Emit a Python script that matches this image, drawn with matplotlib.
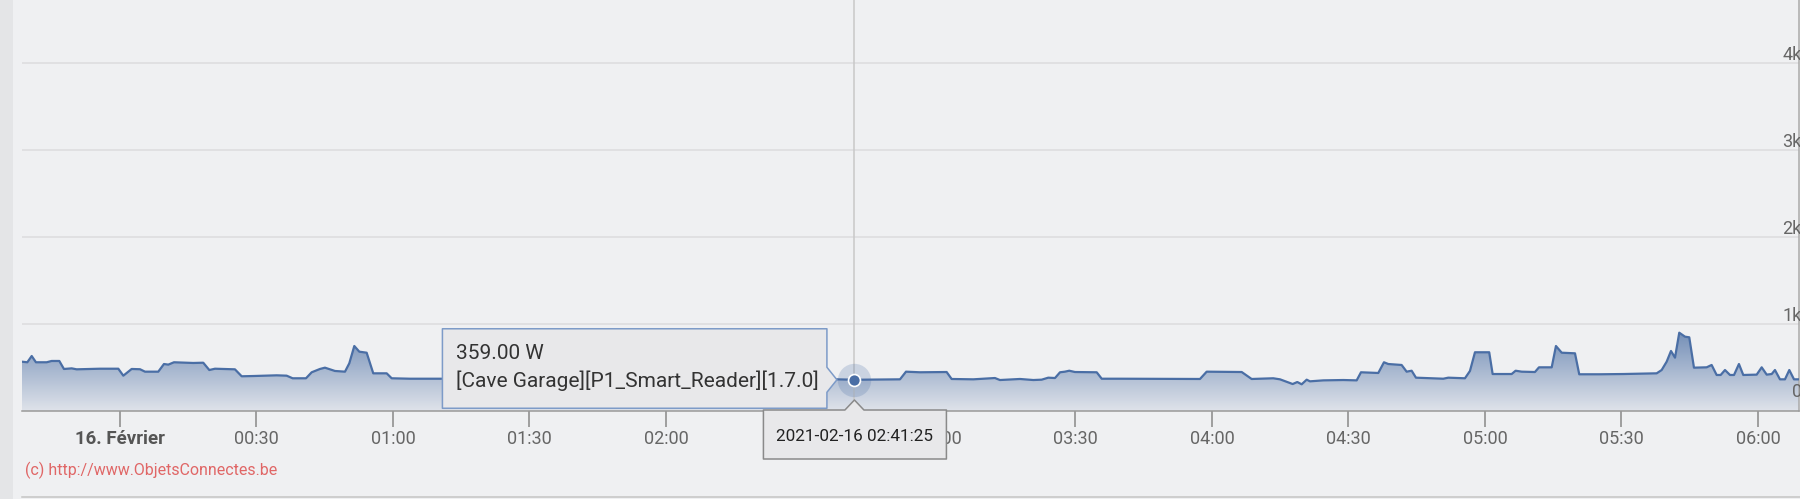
import numpy as np
import pandas as pd
import matplotlib
matplotlib.use('Agg')
import matplotlib.pyplot as plt
import matplotlib.dates as mdates
from matplotlib.colors import LinearSegmentedColormap
from matplotlib.patches import Polygon, Rectangle

plt.rcParams['font.family'] = ['Roboto', 'DejaVu Sans']

# power readings (W), night of 15 -> 16 Feb 2021
TIMES = ['23:38:24', '23:39:38', '23:40:36', '23:41:32', '23:43:53', '23:44:59', '23:46:40',
         '23:47:41', '23:49:23', '23:50:29', '23:55:36', '23:59:38',
         '00:00:44', '00:02:34', '00:04:24', '00:05:30', '00:08:25', '00:09:40', '00:10:37',
         '00:11:52', '00:14:40', '00:16:07', '00:18:18', '00:19:38', '00:20:53', '00:25:16',
         '00:26:45', '00:29:18', '00:34:26', '00:36:38', '00:37:57', '00:40:53', '00:42:08',
         '00:43:57', '00:45:03', '00:47:15', '00:49:27', '00:50:24', '00:51:30', '00:52:36',
         '00:54:13', '00:55:40', '00:58:37', '00:59:43', '01:03:44', '01:10:42', '02:37:31',
         '02:41:25', '02:51:26', '02:52:45', '02:55:49', '03:01:41', '03:02:47', '03:07:32',
         '03:12:18', '03:13:24', '03:17:48', '03:20:44', '03:22:34', '03:24:01', '03:25:30',
         '03:26:36', '03:27:41', '03:28:38', '03:29:53', '03:34:40', '03:35:46', '03:39:47',
         '03:57:22', '03:58:50', '04:06:32', '04:08:43', '04:13:28', '04:14:57', '04:17:44',
         '04:18:45', '04:19:43', '04:20:49', '04:21:32', '04:24:28', '04:28:52', '04:31:48',
         '04:32:45', '04:36:33', '04:37:48', '04:38:45', '04:41:41', '04:42:47', '04:43:53',
         '04:44:50', '04:50:50', '04:51:56', '04:55:36', '04:56:42', '04:57:48', '05:00:56',
         '05:01:41', '05:05:52', '05:06:44', '05:08:04', '05:10:59', '05:11:52', '05:14:40',
         '05:15:36', '05:16:52', '05:19:47', '05:20:43', '05:25:16', '05:30:24', '05:37:44',
         '05:38:50', '05:39:56', '05:40:53', '05:41:46', '05:42:42', '05:43:58', '05:44:54',
         '05:45:56', '05:48:43', '05:49:49', '05:50:55', '05:51:48', '05:52:45', '05:53:51',
         '05:54:44', '05:55:49', '05:56:46', '05:59:43', '06:00:49', '06:01:55', '06:03:01',
         '06:03:44', '06:04:50', '06:05:56', '06:06:53', '06:07:55', '06:09:14']
WATTS = [567, 560, 632, 560, 560, 575, 575,
         483, 490, 479, 486, 486,
         406, 483, 480, 452, 452, 540, 533,
         560, 555, 552, 555, 471, 486, 479,
         399, 402, 410, 406, 376, 376, 445,
         483, 498, 460, 452, 548, 747, 682,
         670, 433, 433, 376, 371, 371, 364,
         359, 364, 452, 445, 448, 368, 364,
         379, 356, 368, 356, 360, 383, 379,
         445, 452, 463, 448, 445, 371, 371,
         368, 452, 448, 368, 376, 364, 310,
         333, 307, 360, 341, 352, 356, 352,
         445, 437, 560, 540, 529, 452, 463,
         383, 371, 383, 376, 460, 675, 675,
         425, 425, 463, 452, 448, 502, 502,
         747, 670, 663, 422, 422, 425, 433,
         471, 567, 690, 613, 900, 854, 847,
         498, 502, 529, 414, 414, 471, 414,
         414, 540, 414, 418, 502, 418, 425,
         471, 364, 364, 471, 364, 364]

TICK_TIMES = ['00:00', '00:30', '01:00', '01:30', '02:00', '02:30', '03:00',
              '03:30', '04:00', '04:30', '05:00', '05:30', '06:00']
# 02:30 sits fully under the date tooltip in the screenshot
TICK_LABELS = ['16. Février', '00:30', '01:00', '01:30', '02:00', '', '03:00',
               '03:30', '04:00', '04:30', '05:00', '05:30', '06:00']
Y_TICKS = [0, 1000, 2000, 3000, 4000]
Y_LABELS = ['0', '1k', '2k', '3k', '4k']

HOVER_TIME = '02:41:25'
HOVER_VALUE = 359
HOVER_TEXT = '359.00 W'
HOVER_SERIES = '[Cave Garage][P1_Smart_Reader][1.7.0]'
HOVER_DATE = '2021-02-16 02:41:25'
WATERMARK = '(c) http://www.ObjetsConnectes.be'


def stamp(hms):
    day = '2021-02-15' if hms.startswith('23') else '2021-02-16'
    return pd.Timestamp(f'{day} {hms}')


t = mdates.date2num([stamp(s) for s in TIMES])
v = np.array(WATTS)

BG = '#eff0f2'
LINE = '#4a6ea5'
W, H = 1800, 499

fig = plt.figure(figsize=(W / 100, H / 100), dpi=100, facecolor=BG)
ax = fig.add_axes([22 / W, (H - 411) / H, (1799 - 22) / W, 411 / H])
ax.set_facecolor(BG)

xmin = mdates.date2num(pd.Timestamp('2021-02-15 23:38:28'))
xmax = mdates.date2num(pd.Timestamp('2021-02-16 06:09:01'))

# gradient area
poly = ax.fill_between(t, v, 0, color='none', lw=0)
grad = np.linspace(0, 1, 256).reshape(-1, 1)
cmap = LinearSegmentedColormap.from_list('area', ['#dfe3ea', '#6f8bb5'])
im = ax.imshow(grad, aspect='auto', extent=[xmin, xmax, 0, 950], origin='lower',
               cmap=cmap, zorder=1, interpolation='bicubic')
im.set_clip_path(poly.get_paths()[0], transform=ax.transData)
ax.plot(t, v, color=LINE, lw=1.6, zorder=3, solid_joinstyle='round')

ax.set_xlim(xmin, xmax)
ax.set_ylim(0, 4724)

# grid + y labels
for yv, lab in zip(Y_TICKS, Y_LABELS):
    if yv > 0:
        ax.axhline(yv, color='#dcdcde', lw=1.1, zorder=0)
    off = 160 if yv == 0 else 35
    ax.text(1.0015, yv + off, lab, transform=ax.get_yaxis_transform(), ha='right',
            va='baseline', fontsize=13, color='#666666', zorder=4)

tick_pos = mdates.date2num([stamp(s + ':00') for s in TICK_TIMES])
ax.set_xticks(tick_pos)
ax.set_xticklabels(TICK_LABELS)
ax.set_yticks([])
ax.tick_params(axis='x', length=11.5, width=1.1, color='#888888', pad=2,
               labelsize=13, labelcolor='#666666')
ax.get_xticklabels()[0].set_fontweight('bold')
ax.get_xticklabels()[0].set_fontsize(13.5)
ax.get_xticklabels()[0].set_color('#555555')

for s in ['top', 'left']:
    ax.spines[s].set_visible(False)
ax.spines['bottom'].set_color('#999999')
ax.spines['bottom'].set_linewidth(1.1)
ax.spines['right'].set_color('#aaaaaa')
ax.spines['right'].set_linewidth(1.1)

# crosshair and hovered point
ht = mdates.date2num(stamp(HOVER_TIME))
ax.axvline(ht, color='#c8c8c8', lw=1.1, zorder=2)
ax.plot([ht], [HOVER_VALUE], 'o', ms=24, color=LINE, alpha=0.22, mec='none', zorder=5)
ax.plot([ht], [HOVER_VALUE], 'o', ms=8.6, color=LINE, mec='white', mew=1.2, zorder=6)

# overlay in pixel coordinates for tooltips
ov = fig.add_axes([0, 0, 1, 1], zorder=10)
ov.set_xlim(0, W)
ov.set_ylim(H, 0)
ov.axis('off')
ov.patch.set_alpha(0)

ov.add_patch(Rectangle((0, 0), 13, H, color='#e4e5e7', lw=0))
ov.plot([22, W], [497, 497], color='#c4c4c4', lw=1.1)

px, py = ax.transData.transform((ht, HOVER_VALUE))
mx, my = px, H - py

# series tooltip, pointer to the right
L, R, T, B = mx - 412, mx - 27.5, my - 51, my + 28.5
tip = [(L, T), (R, T), (R, my - 12.5), (mx - 17.5, my), (R, my + 12.5), (R, B), (L, B)]
ov.add_patch(Polygon(tip, closed=True, fc='#e8e8ea', ec='#7d9bc8', lw=1.1, joinstyle='round'))
ov.text(L + 14, my - 26, HOVER_TEXT, fontsize=15, color='#333333', va='center', ha='left')
ov.text(L + 14, my + 1, HOVER_SERIES, fontsize=15, color='#333333', va='center', ha='left')

# date tooltip under the axis, pointer upwards
L2, R2, T2, B2 = mx - 91, mx + 92, 410, 459
box = [(L2, T2), (mx - 9.5, T2), (mx, 400), (mx + 9.5, T2), (R2, T2), (R2, B2), (L2, B2)]
ov.add_patch(Polygon(box, closed=True, fc='#e8e8ea', ec='#8a8a8a', lw=1.1, joinstyle='round'))
ov.text(mx, 436.5, HOVER_DATE, fontsize=12.3, color='#222222', va='center', ha='center')

ov.text(25, 470, WATERMARK, fontsize=11.5, color='#e06666', va='center', ha='left')

fig.savefig('out.png', dpi=100, facecolor=BG)
